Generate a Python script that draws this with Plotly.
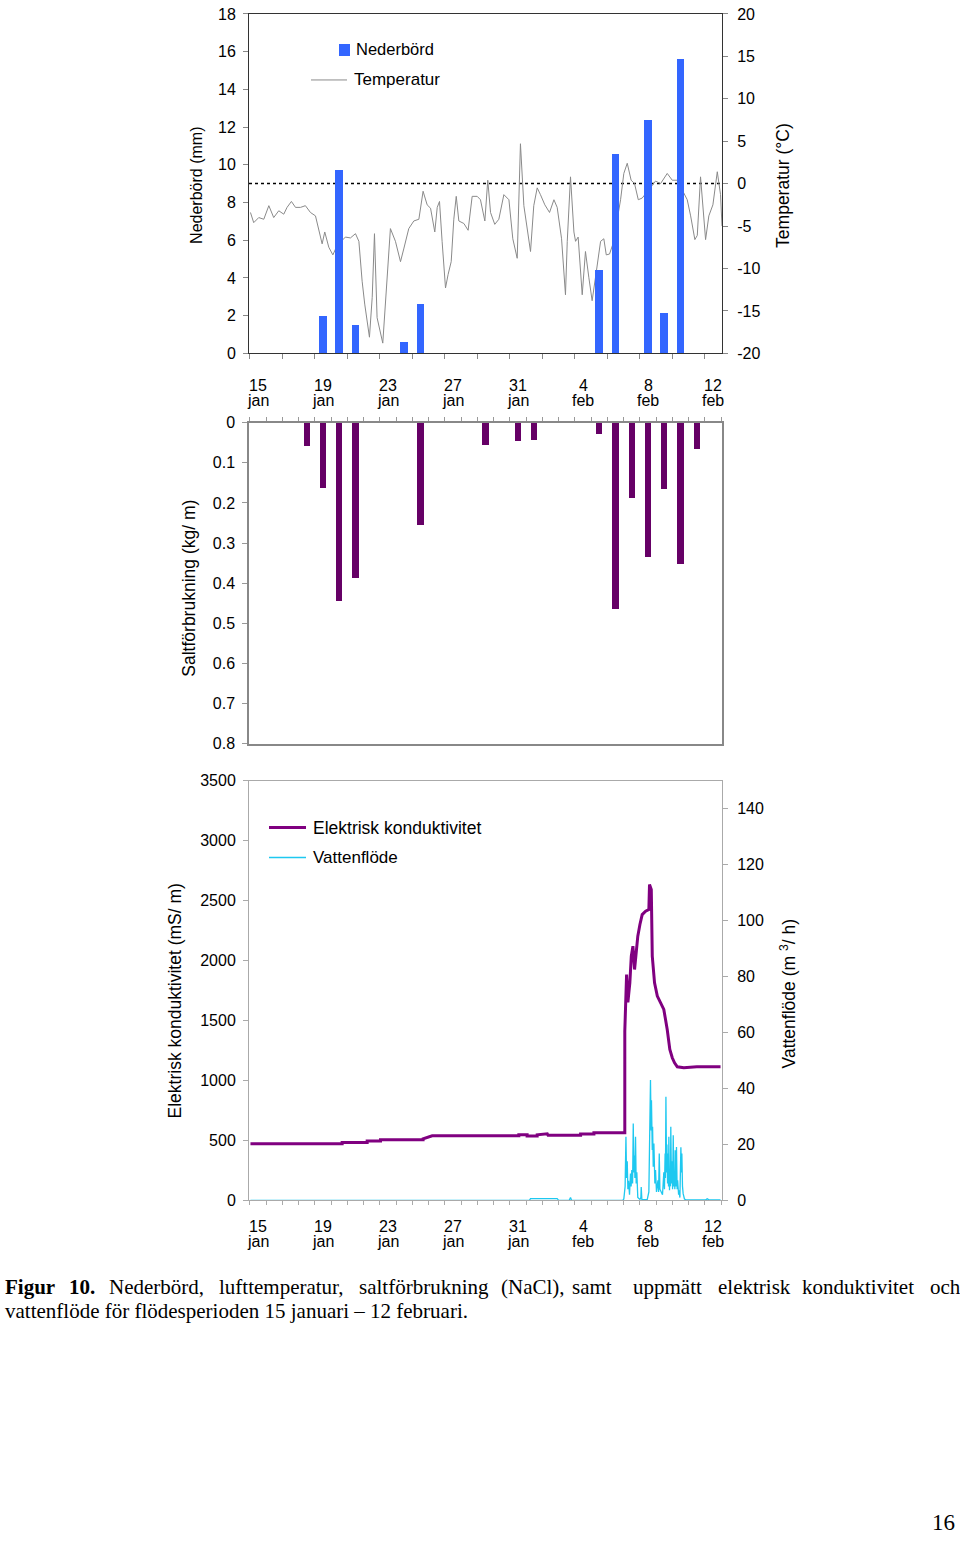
import plotly.graph_objects as go

W, H = 960, 1542

# ---------------- data (x = days after 15 jan) ----------------
tick_days = [0, 4, 8, 12, 16, 20, 24, 28]
tick_day_text = ["15", "19", "23", "27", "31", "4", "8", "12"]
tick_month_text = ["jan", "jan", "jan", "jan", "jan", "feb", "feb", "feb"]

precip_day = [4, 5, 6, 9, 10, 21, 22, 24, 25, 26]
precip_mm = [2.0, 9.7, 1.5, 0.6, 2.6, 4.4, 10.6, 12.4, 2.15, 15.6]

temp_day = [-0.46, -0.26, 0.05, 0.36, 0.67, 0.97, 1.28, 1.59, 1.79, 2.06,
            2.31, 2.62, 2.92, 3.23, 3.54, 3.74, 3.95, 4.11, 4.36, 4.61,
            4.87, 5.38, 5.69, 6.00, 6.21, 6.41, 6.57, 6.86, 7.03, 7.17,
            7.33, 7.68, 7.95, 8.15, 8.46, 8.77, 8.97, 9.28, 9.59, 9.90,
            10.16, 10.41, 10.62, 10.88, 11.03, 11.17, 11.33, 11.54, 11.70, 11.89,
            12.05, 12.20, 12.36, 12.67, 12.93, 13.18, 13.49, 13.69, 13.96, 14.14,
            14.31, 14.57, 14.82, 15.13, 15.44, 15.68, 15.95, 16.15, 16.36, 16.63,
            16.77, 16.97, 17.18, 17.38, 17.65, 17.94, 18.21, 18.41, 18.68, 18.92,
            19.03, 19.23, 19.44, 19.54, 19.70, 19.95, 20.15, 20.36, 20.56, 20.83,
            21.08, 21.28, 21.43, 21.63, 21.86, 22.31, 22.51, 22.72, 22.96, 23.17,
            23.40, 23.64, 24.46, 24.77, 25.18, 25.49, 25.80, 26.41, 26.62, 26.88,
            27.03, 27.23, 27.44, 27.54, 27.74, 27.99, 28.26, 28.46, 28.55]
temp_c = [-3.4, -4.6, -4.0, -4.2, -2.6, -4.0, -3.2, -3.6, -2.8, -2.1,
          -2.8, -2.8, -2.6, -3.4, -3.8, -5.3, -7.1, -5.7, -7.5, -8.4,
          -7.3, -6.3, -6.4, -5.9, -6.8, -11.5, -14.2, -18.1, -13.4, -5.9,
          -15.8, -18.8, -11.5, -5.3, -6.8, -9.2, -7.7, -5.3, -4.4, -4.2,
          -0.9, -2.5, -2.9, -5.7, -2.8, -2.1, -6.8, -12.3, -10.7, -9.2,
          -4.2, -1.5, -4.4, -4.7, -5.5, -1.5, -1.5, -1.9, -4.4, 0.4,
          -3.4, -4.8, -4.2, -1.3, -1.9, -6.5, -8.8, 4.7, -2.6, -6.5,
          -8.0, -2.6, -0.5, -1.3, -2.5, -3.4, -1.9, -2.8, -6.5, -13.1,
          -6.8, 0.8, -5.7, -6.8, -6.3, -13.1, -8.0, -11.1, -13.8, -10.2,
          -6.8, -6.5, -8.4, -8.3, -7.0, -1.9, 1.2, 2.4, 0.4, 0.0,
          -1.9, -1.7, 0.3, 0.0, 1.2, 0.4, 0.4, -1.9, -3.8, -6.6,
          -6.1, 0.8, -3.8, -6.6, -3.8, -2.5, 1.4, -1.3, -5.0]

salt_day = [3, 4, 5, 6, 10, 14, 16, 17, 21, 22, 23, 24, 25, 26, 27]
salt_kg = [0.057, 0.161, 0.443, 0.387, 0.254, 0.055, 0.045, 0.042, 0.028,
           0.465, 0.188, 0.335, 0.165, 0.351, 0.064]

cond_day = [-0.46, 5.18, 5.18, 6.72, 6.72, 7.54, 7.54, 10.16, 10.16, 10.51,
            10.72, 16.05, 16.05, 16.56, 16.56, 17.18, 17.18, 17.80, 17.85, 18.0,
            19.85, 19.85, 20.67, 20.67, 22.57, 22.57, 22.62, 22.68, 22.76, 22.88,
            22.97, 23.07, 23.17, 23.29, 23.37, 23.50, 23.64, 23.85, 24.05, 24.09,
            24.20, 24.26, 24.40, 24.57, 24.77, 24.97, 25.18, 25.34, 25.49, 25.63,
            25.80, 26.20, 27.0, 28.46]
cond_val = [472, 472, 483, 483, 494, 494, 506, 506, 514, 530,
            539, 539, 547, 547, 536, 536, 547, 555, 542, 542,
            542, 553, 553, 564, 564, 1411, 1675, 1883, 1650, 1814,
            2036, 2119, 1925, 2092, 2203, 2300, 2383, 2411, 2425, 2633,
            2592, 2036, 1814, 1703, 1650, 1592, 1425, 1258, 1189, 1147,
            1114, 1106, 1114, 1114]

flow_day = [-0.46, 16.7, 16.77, 18.41, 18.5, 19.15, 19.23, 19.3, 22.45,
            22.51, 22.59, 22.64, 22.68, 22.72, 22.76, 22.80, 22.86, 22.92, 22.96,
            23.00, 23.05, 23.09, 23.13, 23.17, 23.19, 23.23, 23.27, 23.31, 23.37,
            23.50, 23.56, 23.58, 23.62, 23.95,
            24.05, 24.11, 24.15, 24.19, 24.21, 24.26, 24.28, 24.32, 24.36, 24.42,
            24.46, 24.52, 24.61, 24.65, 24.69, 24.73, 24.77, 24.89, 24.97, 25.01,
            25.05, 25.07, 25.10, 25.14, 25.16, 25.20, 25.22, 25.26, 25.28, 25.32,
            25.34, 25.38, 25.40, 25.44, 25.47, 25.51, 25.55, 25.59, 25.61, 25.65,
            25.67, 25.71, 25.75, 25.79, 25.82, 25.88, 25.90, 25.96, 26.02, 26.06,
            26.08, 26.12, 26.16, 26.24, 26.33, 27.55, 27.64, 27.75, 28.46]
flow_val = [0, 0, 0.6, 0.6, 0, 0, 1.0, 0, 0,
            0.5, 5, 22.7, 8, 14, 4, 7, 2, 9.6, 5,
            10.8, 6, 27.5, 10, 16, 8, 22.7, 6, 10, 1,
            0.3, 1, 4.8, 0.3, 0.3,
            3, 20, 43, 25, 35.8, 18, 26.3, 12, 20.3, 6,
            10.8, 3, 7.2, 3, 16.7, 4, 3.6, 2, 10, 4,
            16.7, 8, 37, 10, 20, 6, 16.7, 5, 22.7, 3.6,
            7.2, 5, 26.3, 6, 14, 4, 23.3, 5, 9.6, 4,
            17.9, 5, 19.1, 4, 7.2, 2, 3.6, 1, 19, 10,
            16.7, 5, 2.4, 0.5, 0.2, 0.2, 0.6, 0.2, 0.2]

temp_ticks = [-20, -15, -10, -5, 0, 5, 10, 15, 20]
temp_ticktext = ["-20", "-15", "-10", "-5", "0", "5", "10", "15", "20"]

# ---------------- layout helpers (reference pixels -> paper) ----------------
# the captured page shows the figure as y_shown = 8 + 0.9895 * y_fig, so
# reference pixel rows are converted back to figure rows here.
Y_OFF, Y_SCALE = 8.0, 0.9895

def px(x):
    return x / W

def yfig(y):
    return (y - Y_OFF) / Y_SCALE

def py(y):
    return 1 - yfig(y) / H

def pyf(yf):
    return 1 - yf / H

XDOM = [px(249), px(722)]
XR = [-0.55, 28.55]
FONT = "Liberation Sans, Arial, sans-serif"
SERIF = "Liberation Serif, Times New Roman, serif"

fig = go.Figure()

fig.add_trace(go.Scatter(x=temp_day, y=temp_c, mode="lines", name="Temperatur",
                         line=dict(color="#8a8a8a", width=1), xaxis="x", yaxis="y"))
fig.add_trace(go.Bar(x=precip_day, y=precip_mm, name="Nederbörd", width=0.48,
                     marker=dict(color="#3366ff", line=dict(width=0)), xaxis="x", yaxis="y2"))
fig.add_trace(go.Bar(x=salt_day, y=salt_kg, name="Saltförbrukning", width=0.39,
                     marker=dict(color="#660066", line=dict(width=0)), xaxis="x2", yaxis="y3"))
fig.add_trace(go.Scatter(x=cond_day, y=cond_val, mode="lines", name="Elektrisk konduktivitet",
                         line=dict(color="#800080", width=3), xaxis="x3", yaxis="y4"))
fig.add_trace(go.Scatter(x=flow_day, y=flow_val, mode="lines", name="Vattenflöde",
                         line=dict(color="#1ec8f0", width=1.3), xaxis="x3", yaxis="y5"))

tickfont = dict(family=FONT, size=16, color="black")

fig.update_layout(
    width=W, height=H, margin=dict(l=0, r=0, t=0, b=0),
    paper_bgcolor="white", plot_bgcolor="white", showlegend=False,
    font=dict(family=FONT, size=15, color="black"),
    bargap=0,
    xaxis=dict(domain=XDOM, anchor="y", range=XR, tickmode="array",
               tickvals=tick_days, ticktext=tick_day_text, ticks="",
               showticklabels=False,
               minor=dict(tickmode="linear", tick0=-0.5, dtick=2, ticks="outside",
                          ticklen=5, tickcolor="#888888"),
               showline=True, linecolor="#333333", linewidth=1, mirror=True,
               showgrid=False, zeroline=False),
    yaxis=dict(domain=[py(353.5), pyf(6)], anchor="x", side="right", range=[-20, 20],
               tickmode="array", tickvals=temp_ticks, ticktext=temp_ticktext,
               ticks="outside", ticklen=5, tickcolor="#888888", tickfont=tickfont,
               ticklabelstandoff=6,
               showline=True, linecolor="#333333", linewidth=1,
               showgrid=False, zeroline=False),
    yaxis2=dict(overlaying="y", anchor="x", side="left", range=[0, 18], dtick=2,
                tick0=0, ticks="outside", ticklen=5, tickcolor="#888888",
                tickfont=tickfont, ticklabelstandoff=4,
                showline=True, linecolor="#333333", linewidth=1,
                showgrid=False, zeroline=False),
    xaxis2=dict(domain=XDOM, anchor="y3", side="top", range=XR, tickmode="linear",
                tick0=-0.5, dtick=1, ticks="outside", ticklen=4, tickcolor="#999999",
                showticklabels=False, showline=True, linecolor="#888888",
                linewidth=1.5, mirror=True, showgrid=False, zeroline=False),
    yaxis3=dict(domain=[py(744), py(423)], anchor="x2", range=[0.8, 0], dtick=0.1,
                tick0=0, ticks="outside", ticklen=5, tickcolor="#999999",
                tickfont=tickfont, ticklabelstandoff=4,
                showline=True, linecolor="#888888", linewidth=1.5, mirror=True,
                showgrid=False, zeroline=False),
    xaxis3=dict(domain=XDOM, anchor="y4", range=XR, tickmode="array",
                tickvals=tick_days, ticktext=tick_day_text, ticks="",
                showticklabels=False,
                minor=dict(tickmode="linear", tick0=-0.5, dtick=1, ticks="outside",
                           ticklen=4, tickcolor="#aaaaaa"),
                showline=True, linecolor="#aaaaaa", linewidth=1, mirror=True,
                showgrid=False, zeroline=False),
    yaxis4=dict(domain=[py(1201), py(781)], anchor="x3", range=[0, 3500], dtick=500,
                tick0=0, ticks="outside", ticklen=5, tickcolor="#aaaaaa",
                tickfont=tickfont, ticklabelstandoff=4,
                showline=True, linecolor="#aaaaaa", linewidth=1,
                showgrid=False, zeroline=False),
    yaxis5=dict(overlaying="y4", anchor="x3", side="right", range=[0, 150],
                tickmode="array", tickvals=[0, 20, 40, 60, 80, 100, 120, 140],
                ticks="outside", ticklen=5, tickcolor="#aaaaaa", tickfont=tickfont,
                ticklabelstandoff=6,
                showline=True, linecolor="#aaaaaa", linewidth=1,
                showgrid=False, zeroline=False),
)

# 0 degree dotted reference line
fig.add_shape(type="line", xref="x domain", yref="y", x0=0, x1=1, y0=0, y1=0,
              line=dict(color="black", width=1.5, dash="dot"), layer="below")

# x tick labels (two lines: day number and month) under the top and bottom panels
for xr_, y_day, y_mon in (("x", 386, 401), ("x3", 1227, 1242)):
    for d, t1, t2 in zip(tick_days, tick_day_text, tick_month_text):
        fig.add_annotation(x=d, y=py(y_day), xref=xr_, yref="paper", text=t1,
                           showarrow=False, xanchor="center", yanchor="middle",
                           font=dict(family=FONT, size=16, color="black"))
        fig.add_annotation(x=d, y=py(y_mon), xref=xr_, yref="paper", text=t2,
                           showarrow=False, xanchor="center", yanchor="middle",
                           font=dict(family=FONT, size=16, color="black"))

# manual legends
fig.add_shape(type="rect", xref="paper", yref="paper", x0=px(339), x1=px(350),
              y0=py(56), y1=py(44), fillcolor="#3366ff", line=dict(width=0))
fig.add_shape(type="line", xref="paper", yref="paper", x0=px(311), x1=px(347),
              y0=py(80), y1=py(80), line=dict(color="#8a8a8a", width=1))
fig.add_shape(type="line", xref="paper", yref="paper", x0=px(269), x1=px(306),
              y0=py(828), y1=py(828), line=dict(color="#800080", width=3))
fig.add_shape(type="line", xref="paper", yref="paper", x0=px(269), x1=px(306),
              y0=py(858), y1=py(858), line=dict(color="#1ec8f0", width=1.5))

def txt(x, y, s, size=16, angle=0, xanchor="left", family=FONT, bold=False):
    if bold:
        s = "<b>" + s + "</b>"
    fig.add_annotation(x=px(x), y=py(y), xref="paper", yref="paper", text=s,
                       showarrow=False, xanchor=xanchor, yanchor="middle",
                       textangle=angle, font=dict(family=family, size=size, color="black"))

txt(354, 49, "Nederbörd", size=16.5)
txt(352, 80, "Temperatur", size=17)
txt(311, 828, "Elektrisk konduktivitet", size=17.5)
txt(311, 858, "Vattenflöde", size=17)

# axis titles
txt(197, 186, "Nederbörd (mm)", angle=-90, xanchor="center", size=16)
txt(783, 186, "Temperatur (°C)", angle=-90, xanchor="center", size=17.5)
txt(189, 589, "Saltförbrukning (kg/ m)", angle=-90, xanchor="center", size=17.5)
txt(175, 1002, "Elektrisk konduktivitet (mS/ m)", angle=-90, xanchor="center", size=17.5)
txt(788, 994, "Vattenflöde (m <sup>3</sup>/ h)", angle=-90, xanchor="center", size=17.5)

# caption (justified first line)
cap_words = ["Figur", "10.", "Nederbörd,", "lufttemperatur,", "saltförbrukning",
             "(NaCl),", "samt", "uppmätt", "elektrisk", "konduktivitet", "och"]
cap_x = [3, 67, 107, 217, 357, 499, 570, 631, 716, 800, 928]
for i, (w_, xw) in enumerate(zip(cap_words, cap_x)):
    txt(xw, 1288, w_, size=21, family=SERIF, bold=(i < 2))
txt(3, 1312, "vattenflöde för flödesperioden 15 januari – 12 februari.", size=21,
    family=SERIF)
txt(957, 1523, "16", size=23, family=SERIF, xanchor="right")

post = ("document.documentElement.style.margin='0px';"
        "document.body.style.margin='0px';"
        "document.body.style.padding='0px';"
        "document.documentElement.style.overflow='hidden';"
        "document.body.style.overflow='hidden';")

fig.write_html("out.html", config={"displayModeBar": False}, post_script=post)
